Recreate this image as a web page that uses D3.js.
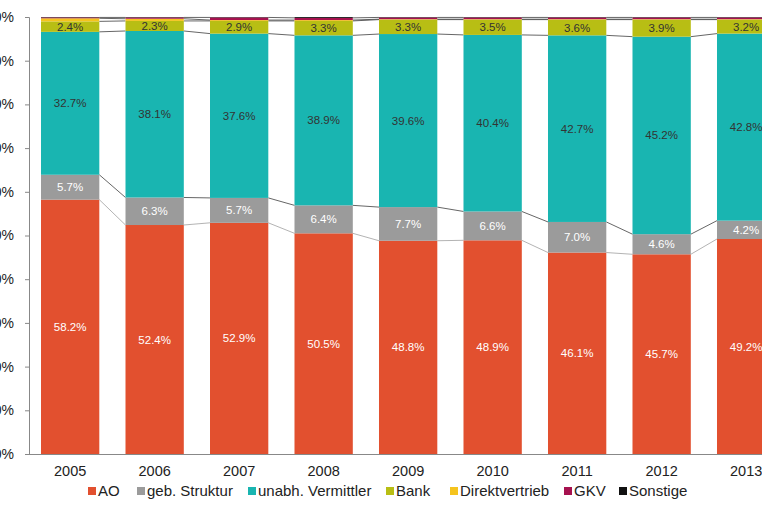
<!DOCTYPE html>
<html>
<head>
<meta charset="utf-8">
<script src="https://cdn.jsdelivr.net/npm/d3@7"></script>
<style>
  body { margin: 0; background: #fff; }
  svg { display: block; font-family: Arial, "Liberation Sans", sans-serif; }
</style>
</head>
<body>
<div id="chart"></div>
<script>
var years = ["2005","2006","2007","2008","2009","2010","2011","2012","2013"];
var seriesNames = ["AO","geb. Struktur","unabh. Vermittler","Bank","Direktvertrieb","GKV","Sonstige"];
var colors = ["#E2502F","#9B9B9B","#19B5B1","#B8BE14","#F5C41E","#A6124F","#111111"];
var labelColors = ["#fff","#fff","#333","#333"];

var ao         = [58.2, 52.4, 52.9, 50.5, 48.8, 48.9, 46.1, 45.7, 49.2];
var gebStr     = [5.7, 6.3, 5.7, 6.4, 7.7, 6.6, 7.0, 4.6, 4.2];
var unabh      = [32.7, 38.1, 37.6, 38.9, 39.6, 40.4, 42.7, 45.2, 42.8];
var bank       = [2.4, 2.3, 2.9, 3.3, 3.3, 3.5, 3.6, 3.9, 3.2];
var direkt     = [0.7, 0.5, 0.2, 0.2, 0.1, 0.1, 0.1, 0.1, 0.1];
var gkv        = [0.2, 0.3, 0.6, 0.5, 0.4, 0.4, 0.4, 0.4, 0.4];
var sonstige   = [0.1, 0.1, 0.1, 0.2, 0.1, 0.1, 0.1, 0.1, 0.1];
var yTicks = [0,10,20,30,40,50,60,70,80,90,100];

var allSeries = [ao, gebStr, unabh, bank, direkt, gkv, sonstige];

var width = 762, height = 508;
var svg = d3.select("#chart").append("svg")
    .attr("width", width)
    .attr("height", height);

var x = d3.scaleBand()
    .domain(years)
    .range([29, 787.3])
    .paddingInner(0.31)
    .paddingOuter(0.142);

var y = d3.scaleLinear()
    .domain([0, 100])
    .range([454, 17]);

// build rows for stacking
var rows = years.map(function(yr, i){
    var r = {year: yr};
    seriesNames.forEach(function(s, j){ r[s] = allSeries[j][i]; });
    return r;
});
var stacked = d3.stack().keys(seriesNames)(rows);

// series lines between bars
var linesG = svg.append("g");
stacked.forEach(function(layer, li){
    if (li > 5) return;
    for (var i = 0; i < years.length - 1; i++) {
        var x1 = x(years[i]) + x.bandwidth(), x2 = x(years[i+1]);
        linesG.append("line")
            .attr("x1", x1).attr("x2", x2)
            .attr("y1", y(layer[i][1])).attr("y2", y(layer[i+1][1]))
            .attr("stroke", li === 0 ? "#aaa" : "#555")
            .attr("stroke-width", 0.9);
    }
});

var barsG = svg.append("g");
stacked.forEach(function(layer, li){
    barsG.selectAll(null)
        .data(layer)
        .enter().append("rect")
        .attr("x", function(d){ return x(d.data.year); })
        .attr("width", x.bandwidth())
        .attr("y", function(d){ return y(d[1]); })
        .attr("height", function(d){ return y(d[0]) - y(d[1]); })
        .attr("fill", colors[li]);
});

// value labels
stacked.forEach(function(layer, li){
    if (li > 3) return;
    barsG.selectAll(null)
        .data(layer)
        .enter().append("text")
        .attr("x", function(d){ return x(d.data.year) + x.bandwidth()/2; })
        .attr("y", function(d){ return (y(d[0]) + y(d[1]))/2; })
        .attr("dy", "0.35em")
        .attr("text-anchor", "middle")
        .attr("font-size", 11.5)
        .attr("fill", labelColors[li])
        .text(function(d){ return (d[1]-d[0]).toFixed(1) + "%"; });
});

// y axis
var yAxis = d3.axisLeft(y)
    .tickValues(yTicks)
    .tickSize(4)
    .tickPadding(11)
    .tickFormat(function(d){ return d + "%"; });
var yg = svg.append("g").attr("transform", "translate(29,0)").call(yAxis);
yg.select(".domain").attr("stroke", "#888");
yg.selectAll(".tick line").attr("stroke", "#888");
yg.selectAll("text").attr("font-size", 14).attr("fill", "#222").attr("font-family", "Arial, 'Liberation Sans', sans-serif");

// x axis
var xg = svg.append("g").attr("transform", "translate(0,454)").call(d3.axisBottom(x).tickSize(0).tickPadding(12));
xg.select(".domain").attr("stroke", "#888").attr("d", "M29,0.5H762");
xg.selectAll("text").attr("font-size", 14.5).attr("fill", "#222").attr("font-family", "Arial, 'Liberation Sans', sans-serif");

// legend
var legendX = [88, 137, 248, 386, 450, 564, 619];
var lg = svg.append("g");
seriesNames.forEach(function(s, i){
    var g = lg.append("g").attr("transform", "translate(" + legendX[i] + ",487)");
    g.append("rect").attr("width", 8).attr("height", 8).attr("fill", colors[i]);
    g.append("text").attr("x", 10).attr("y", 8.5)
        .attr("font-size", 15).attr("fill", "#222").text(s);
});
</script>
</body>
</html>
